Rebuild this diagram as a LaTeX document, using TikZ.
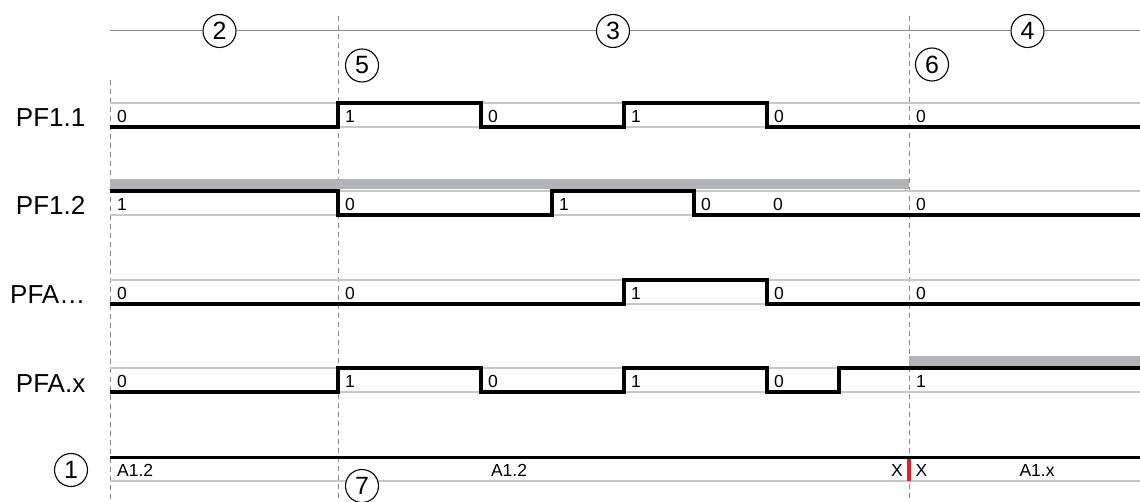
\documentclass[tikz,border=0pt]{standalone}
\usepackage{fontspec}
\setmainfont{Liberation Sans}
\definecolor{guidegray}{RGB}{200,200,200}
\definecolor{bargray}{RGB}{178,180,183}
\definecolor{linegray}{RGB}{135,135,135}
\definecolor{cutred}{RGB}{232,28,36}

\begin{document}
\begin{tikzpicture}[x=1pt,y=-1pt,
  every node/.style={inner sep=0pt,font=\fontsize{17.5}{19}\selectfont},
  wave/.style={line width=3.3pt},
  busline/.style={line width=3.6pt},
  guide/.style={guidegray,line width=1.1pt},
  cutline/.style={linegray,line width=1pt,dash pattern=on 5pt off 4pt},
  circnum/.style={circle,draw,line width=1.1pt,minimum size=33pt,fill=white,
    font=\fontsize{25}{26}\selectfont},
  rowname/.style={anchor=base east,font=\fontsize{26}{28}\selectfont},
  bit/.style={anchor=base west}]
\newcommand{\sigrow}[5]{%
  \begin{scope}[shift={(0,#2)}]
    \draw[guide] (110,0) -- (1140,0);
    \draw[guide] (110,24) -- (1140,24);
    \node[rowname] (#1) at (85.5,24) {#3};
    \draw[wave] #4;
    \foreach \bx/\bv in {#5}
      \node[bit] (#1-\bx) at (\bx+7,20) {\bv};
  \end{scope}}

\useasboundingbox (0,0) rectangle (1140,502);

\draw[cutline] (110,80) -- (110,502);
\draw[cutline] (338,16) -- (338,502);
\draw[cutline] (909,16) -- (909,502);

\node[circnum] (ph2) at (219.5,31) {2};
\node[circnum] (ph3) at (613,31) {3};
\node[circnum] (ph4) at (1027.5,31) {4};
\node[circnum] (ph5) at (362,65.5) {5};
\node[circnum] (ph6) at (932,64.5) {6};
\coordinate (topl) at (110,31);
\coordinate (topr) at (1140,31);
\draw[linegray,line width=1pt] (topl) -- (ph2) -- (ph3) -- (ph4) -- (topr);

\fill[bargray] (110,179.5) rectangle (909,189.5);
\fill[bargray] (909,356) rectangle (1140,366.5);

\sigrow{pf11}{103}{PF1.1}{(110,24) -| (338,0) -| (481,24) -| (624,0) -| (767,24) -- (1140,24)}
  {110/0,338/1,481/0,624/1,767/0,909/0}
\sigrow{pf12}{191}{PF1.2}{(110,0) -| (338,24) -| (552,0) -| (694,24) -- (1140,24)}
  {110/1,338/0,552/1,694/0,766/0,909/0}
\sigrow{pfa}{280}{PFA…}{(110,24) -| (624,0) -| (767,24) -- (1140,24)}
  {110/0,338/0,624/1,767/0,909/0}
\sigrow{pfax}{368}{PFA.x}{(110,24) -| (338,0) -| (481,24) -| (624,0) -| (767,24) -| (839,0) -- (1140,0)}
  {110/0,338/1,481/0,624/1,767/0,909/1}

\draw[guide] (110,481) -- (1140,481);
\draw[busline] (110,457.5) -- (1140,457.5);
\draw[cutred,line width=3.7pt] (909,459.3) -- (909,481);
\node[bit] (seg1) at (117,476.5) {A1.2};
\node[anchor=base] (seg2) at (509,476.5) {A1.2};
\node[anchor=base east] (seg3) at (903,476.5) {X};
\node[bit] (seg4) at (915.5,476.5) {X};
\node[anchor=base] (seg5) at (1037,476.5) {A1.x};
\node[circnum] (ph1) at (71,470) {1};
\node[circnum] (ph7) at (362,486) {7};
\end{tikzpicture}
\end{document}
